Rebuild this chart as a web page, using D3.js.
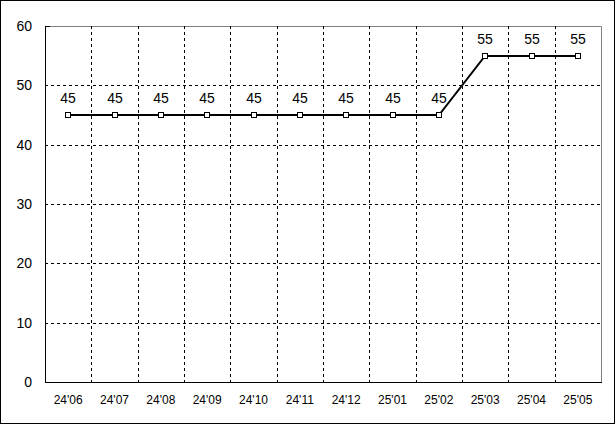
<!DOCTYPE html>
<html><head><meta charset="utf-8">
<script src="https://cdn.jsdelivr.net/npm/d3@7"></script>
<style>body{margin:0;background:#fff}svg{display:block}text{font-family:"Liberation Sans",Arial,sans-serif;font-size:12px;fill:#000}</style>
</head><body>
<script>
const categories = ["24'06","24'07","24'08","24'09","24'10","24'11","24'12","25'01","25'02","25'03","25'04","25'05"];
const values = [45,45,45,45,45,45,45,45,45,55,55,55];
const yTicks = [0,10,20,30,40,50,60];

const W=615,H=424;
const m={left:45,right:14,top:26,bottom:42};
const svg=d3.select("body").append("svg").attr("width",W).attr("height",H);
svg.append("rect").attr("x",0.5).attr("y",0.5).attr("width",W-1).attr("height",H-1).attr("fill","#fff").attr("stroke","#000");

const x=d3.scaleBand().domain(categories).range([m.left,W-m.right]);
const y=d3.scaleLinear().domain([0,60]).range([H-m.bottom,m.top]);
const x0=m.left,x1=W-m.right,y0=H-m.bottom,y1=m.top;

svg.append("path").attr("d",`M${x0},${y1+0.5}H${x1+0.5}V${y0}`).attr("fill","none").attr("stroke","#808080");

const g=svg.append("g");
yTicks.filter(t=>t>0&&t<60).forEach(t=>{
  g.append("line").attr("x1",x0).attr("x2",x1).attr("y1",Math.round(y(t))+0.5).attr("y2",Math.round(y(t))+0.5)
   .attr("stroke","#000").attr("stroke-dasharray","3,3");
});
categories.slice(1).forEach(c=>{
  const xx=Math.round(x(c))+0.5;
  g.append("line").attr("x1",xx).attr("x2",xx).attr("y1",y1).attr("y2",y0).attr("stroke","#000").attr("stroke-dasharray","3,3");
});

svg.append("line").attr("x1",x0+0.5).attr("x2",x0+0.5).attr("y1",y1).attr("y2",y0+1).attr("stroke","#000");
svg.append("line").attr("x1",x0).attr("x2",x1+1).attr("y1",y0+0.5).attr("y2",y0+0.5).attr("stroke","#000");
svg.append("line").attr("x1",x0).attr("x2",x0+5).attr("y1",y1+0.5).attr("y2",y1+0.5).attr("stroke","#000");

svg.append("g").selectAll("text").data(yTicks).join("text")
  .attr("x",32).attr("y",d=>y(d)).attr("dy","0.35em").attr("text-anchor","end").style("font-size","14px").text(d=>d);
svg.append("g").selectAll("text").data(categories).join("text")
  .attr("x",d=>x(d)+x.bandwidth()/2).attr("y",400).attr("dy","0.35em").attr("text-anchor","middle").text(d=>d);

const cx=d=>Math.round(x(d)+x.bandwidth()/2);
const data=categories.map((c,i)=>({c,v:values[i]}));
svg.append("path").datum(data).attr("fill","none").attr("stroke","#000").attr("stroke-width",2)
  .attr("d",d3.line().x(d=>cx(d.c)).y(d=>Math.round(y(d.v))));
svg.append("g").selectAll("rect").data(data).join("rect")
  .attr("x",d=>cx(d.c)-2.5).attr("y",d=>Math.round(y(d.v))-2.5).attr("width",5).attr("height",5)
  .attr("fill","#fff").attr("stroke","#000");
svg.append("g").selectAll("text").data(data).join("text")
  .attr("x",d=>cx(d.c)).attr("y",d=>y(d.v)-17).attr("dy","0.35em").attr("text-anchor","middle").style("font-size","14px").text(d=>d.v);
</script>
</body></html>
